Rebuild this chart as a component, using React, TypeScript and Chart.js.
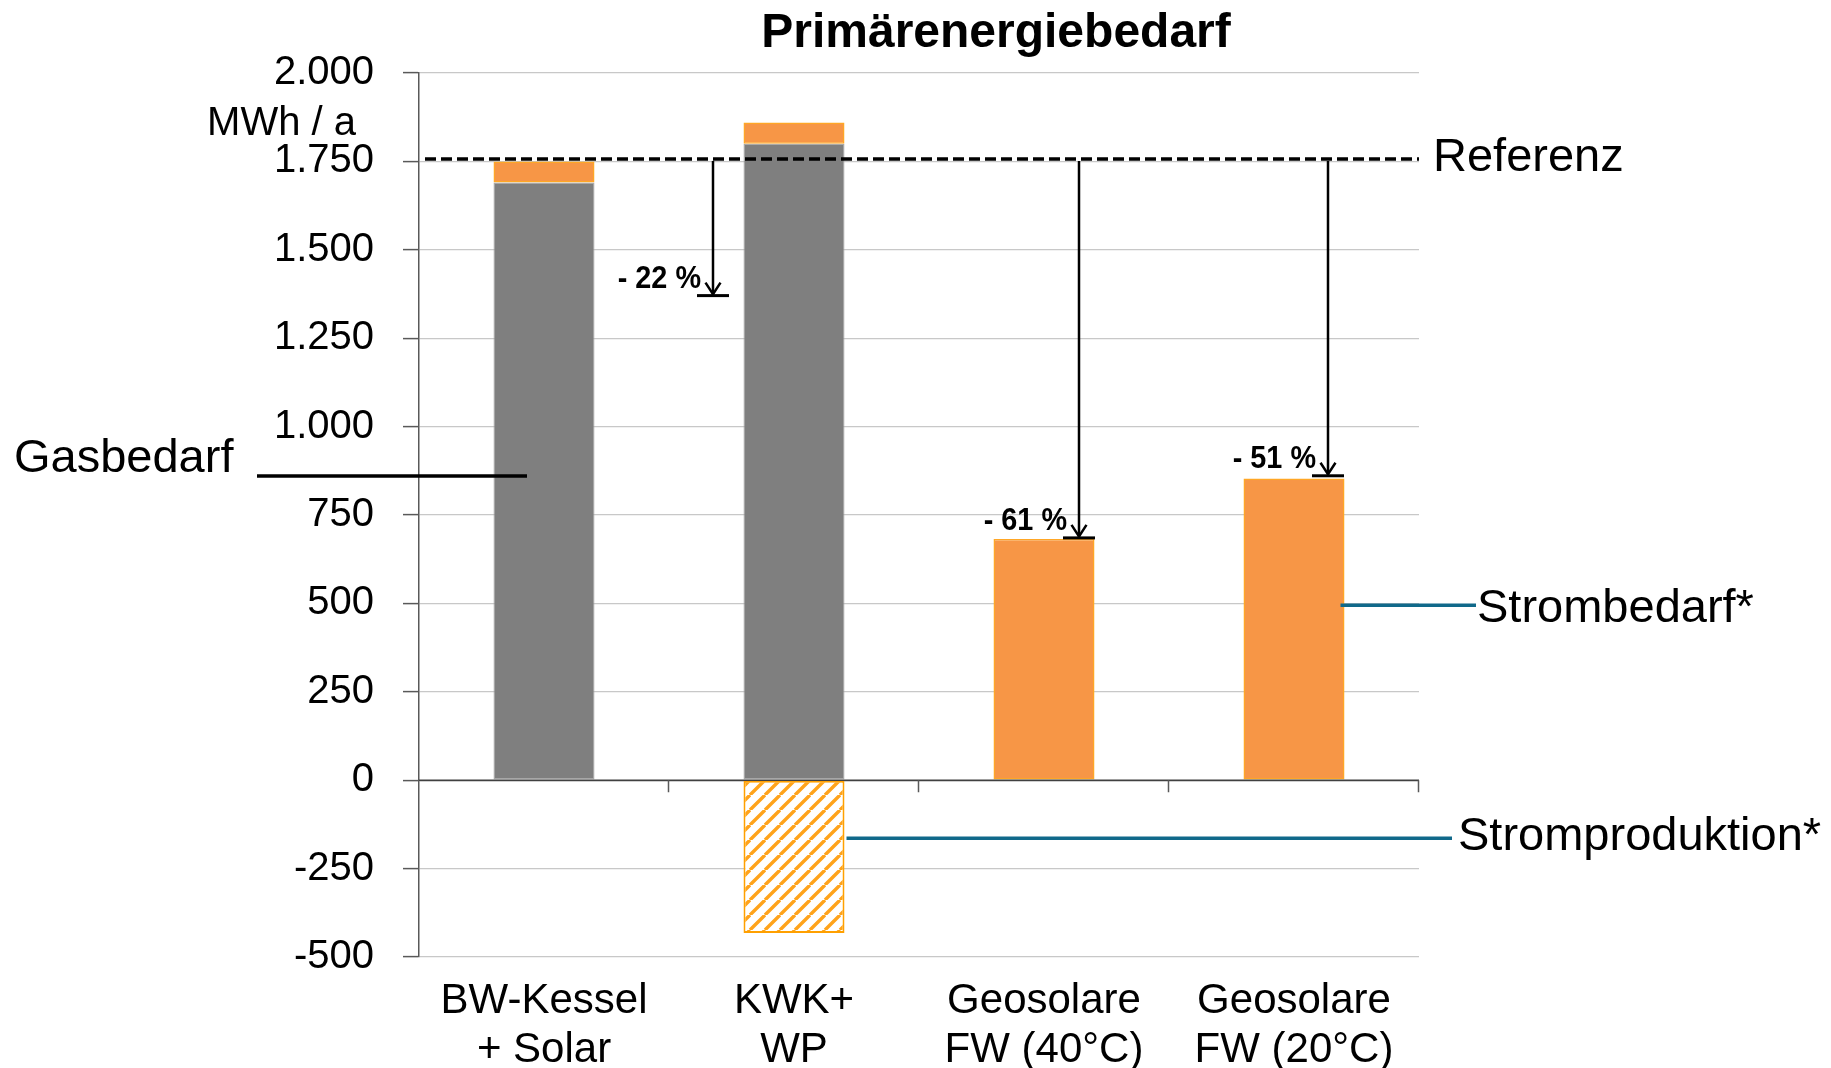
import React, { useEffect, useRef } from 'react';
import { Chart, registerables } from 'chart.js';

Chart.register(...registerables);

const FONT = "'Liberation Sans', Arial, Helvetica, sans-serif";

// ---- data ----
const categories: string[][] = [
  ['BW-Kessel', '+ Solar'],
  ['KWK+', 'WP'],
  ['Geosolare', 'FW (40°C)'],
  ['Geosolare', 'FW (20°C)'],
];
const gasDemand = [1690, 1800, null, null];
const powerDemand = [60, 60, 682, 853];
const powerProduction = [null, -432, null, null];
const referenceValue = 1757;
const reductionPercent = [22, 61, 51];
const reductionCategory = [1, 2, 3];
const reductionLabels = ['- 22 %', '- 61 %', '- 51 %'];
const yMin = -500;
const yMax = 2000;
const yStep = 250;

const titleText = 'Primärenergiebedarf';
const unitText = 'MWh / a';
const referenceText = 'Referenz';
const gasText = 'Gasbedarf';
const powerDemandText = 'Strombedarf*';
const powerProductionText = 'Stromproduktion*';

function formatTick(v: number): string {
  const sign = v < 0 ? '-' : '';
  const a = Math.abs(v);
  if (a >= 1000) {
    return sign + Math.floor(a / 1000) + '.' + String(a % 1000).padStart(3, '0');
  }
  return sign + String(a);
}

function makeHatch(): CanvasPattern | string {
  const s = 15;
  const c = document.createElement('canvas');
  c.width = s;
  c.height = s;
  const g = c.getContext('2d');
  if (!g) return '#ffa31a';
  g.fillStyle = '#ffffff';
  g.fillRect(0, 0, s, s);
  g.strokeStyle = '#ffa31a';
  g.lineWidth = 3.4;
  g.beginPath();
  for (const k of [-s, 0, s]) {
    g.moveTo(k, s);
    g.lineTo(k + s, 0);
  }
  g.stroke();
  const p = g.createPattern(c, 'repeat');
  return p || '#ffa31a';
}

const annotationPlugin = {
  id: 'customAnnotations',
  afterDatasetsDraw(chart: any) {
    const { ctx, chartArea, scales } = chart;
    const xs = scales.x;
    const ys = scales.y;
    ctx.save();

    // zero line
    const y0 = ys.getPixelForValue(0);
    ctx.strokeStyle = '#404040';
    ctx.lineWidth = 1.5;
    ctx.beginPath();
    ctx.moveTo(chartArea.left, y0);
    ctx.lineTo(chartArea.right, y0);
    ctx.stroke();

    // category boundary ticks below zero line
    const n = categories.length;
    const catW = (chartArea.right - chartArea.left) / n;
    ctx.strokeStyle = '#595959';
    ctx.lineWidth = 1.5;
    ctx.beginPath();
    for (let i = 1; i <= n; i++) {
      const bx = Math.round(chartArea.left + i * catW) - 0.5;
      ctx.moveTo(bx, y0);
      ctx.lineTo(bx, y0 + 12);
    }
    ctx.stroke();

    // reference dashed line
    const yRef = ys.getPixelForValue(referenceValue);
    ctx.strokeStyle = '#000000';
    ctx.lineWidth = 3.5;
    ctx.setLineDash([11, 5]);
    ctx.beginPath();
    ctx.moveTo(chartArea.left + 6, yRef);
    ctx.lineTo(chartArea.right, yRef);
    ctx.stroke();
    ctx.setLineDash([]);

    // reduction arrows
    const offsets = [-81, 35, 34];
    for (let i = 0; i < reductionPercent.length; i++) {
      const target = referenceValue * (1 - reductionPercent[i] / 100);
      const ty = ys.getPixelForValue(target);
      const ax = xs.getPixelForValue(reductionCategory[i]) + offsets[i];
      ctx.strokeStyle = '#000000';
      ctx.lineWidth = 2.5;
      ctx.beginPath();
      ctx.moveTo(ax, yRef + 2);
      ctx.lineTo(ax, ty - 1);
      ctx.stroke();
      ctx.beginPath();
      ctx.moveTo(ax - 7.5, ty - 13);
      ctx.lineTo(ax, ty - 1.5);
      ctx.lineTo(ax + 7.5, ty - 13);
      ctx.stroke();
      ctx.lineWidth = 3;
      ctx.beginPath();
      ctx.moveTo(ax - 16, ty);
      ctx.lineTo(ax + 16, ty);
      ctx.stroke();
      ctx.fillStyle = '#000000';
      ctx.font = `bold 32px ${FONT}`;
      ctx.textAlign = 'right';
      ctx.textBaseline = 'alphabetic';
      ctx.save();
      ctx.translate(ax - 12, ty - 8);
      ctx.scale(0.9, 1);
      ctx.fillText(reductionLabels[i], 0, 0);
      ctx.restore();
    }

    // leader lines
    const teal = '#10698a';
    const meta0 = chart.getDatasetMeta(0);
    const meta1 = chart.getDatasetMeta(1);
    const meta2 = chart.getDatasetMeta(2);

    // Gasbedarf
    const gasEl = meta0.data[0];
    const gy = ys.getPixelForValue(860);
    ctx.strokeStyle = '#000000';
    ctx.lineWidth = 3.5;
    ctx.beginPath();
    ctx.moveTo(257, gy);
    ctx.lineTo(gasEl.x - 17, gy);
    ctx.stroke();

    // Strombedarf*
    const sEl = meta1.data[3];
    const sy = ys.getPixelForValue(495);
    ctx.strokeStyle = teal;
    ctx.lineWidth = 3.5;
    ctx.beginPath();
    ctx.moveTo(sEl.x + sEl.width / 2 - 4, sy);
    ctx.lineTo(chartArea.right + 57, sy);
    ctx.stroke();

    // Stromproduktion*
    const pEl = meta2.data[1];
    const py = ys.getPixelForValue(-164);
    ctx.beginPath();
    ctx.moveTo(pEl.x + pEl.width / 2 + 2, py);
    ctx.lineTo(chartArea.right + 33, py);
    ctx.stroke();

    // texts
    ctx.fillStyle = '#000000';
    ctx.textBaseline = 'alphabetic';
    ctx.textAlign = 'center';
    ctx.font = `bold 48px ${FONT}`;
    ctx.fillText(titleText, 996, 47);

    ctx.textAlign = 'right';
    ctx.font = `40px ${FONT}`;
    ctx.fillText(unitText, 356, 135);

    ctx.textAlign = 'left';
    ctx.font = `47px ${FONT}`;
    ctx.fillText(referenceText, chartArea.right + 14, yRef + 12);
    ctx.fillText(gasText, 14, gy - 4);
    ctx.fillText(powerDemandText, chartArea.right + 58, sy + 17);
    ctx.fillText(powerProductionText, chartArea.right + 39, py + 12);

    ctx.restore();
  },
};

export default function App() {
  const canvasRef = useRef<HTMLCanvasElement | null>(null);

  useEffect(() => {
    const canvas = canvasRef.current;
    if (!canvas) return;
    Chart.defaults.font.family = FONT;
    const hatch = makeHatch();
    const chart = new Chart(canvas, {
      type: 'bar',
      data: {
        labels: categories as any,
        datasets: [
          {
            label: gasText,
            data: gasDemand as any,
            backgroundColor: '#7f7f7f',
            borderColor: '#a3a3a3',
            borderWidth: 1,
            borderSkipped: false,
            stack: 's',
          },
          {
            label: powerDemandText,
            data: powerDemand,
            backgroundColor: '#f79646',
            borderColor: '#ffa726',
            borderWidth: 1.5,
            borderSkipped: false,
            stack: 's',
          },
          {
            label: powerProductionText,
            data: powerProduction as any,
            backgroundColor: hatch as any,
            borderColor: '#ffa000',
            borderWidth: 2,
            borderSkipped: false,
            stack: 's',
          },
        ],
      },
      options: {
        responsive: false,
        animation: false,
        devicePixelRatio: 1,
        datasets: {
          bar: { barPercentage: 0.404, categoryPercentage: 1 },
        },
        layout: { padding: { top: 73, right: 412, bottom: 0, left: 0 } },
        plugins: {
          legend: { display: false },
          tooltip: { enabled: false },
          title: { display: false },
        },
        scales: {
          x: {
            stacked: true,
            grid: { display: false, drawTicks: false },
            border: { display: false },
            ticks: {
              color: '#000000',
              font: { size: 42, lineHeight: 1.17 },
              padding: 20,
              maxRotation: 0,
              autoSkip: false,
            },
            afterFit(s: any) {
              s.height = 111;
            },
          },
          y: {
            stacked: true,
            min: yMin,
            max: yMax,
            ticks: {
              stepSize: yStep,
              color: '#000000',
              font: { size: 40 },
              padding: 29,
              autoSkip: false,
              callback: (v: any) => formatTick(Number(v)),
            },
            grid: {
              color: (c: any) => (c.tick && c.tick.value === 0 ? '#404040' : '#c8c8c8'),
              lineWidth: 1.2,
              tickColor: '#595959',
              tickLength: 16,
              tickWidth: 1.5,
            },
            border: { display: true, color: '#595959', width: 1.5 },
            afterFit(s: any) {
              s.width = 419;
            },
          },
        },
      },
      plugins: [annotationPlugin],
    });
    return () => chart.destroy();
  }, []);

  return (
    <div style={{ position: 'absolute', left: 0, top: 0, width: 1831, height: 1068, background: '#ffffff' }}>
      <canvas ref={canvasRef} width={1831} height={1068} />
    </div>
  );
}
